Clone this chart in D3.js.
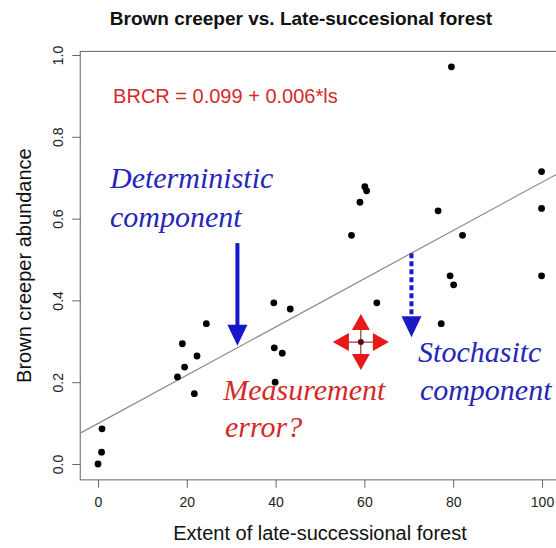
<!DOCTYPE html>
<html>
<head>
<meta charset="utf-8">
<script src="https://cdn.jsdelivr.net/npm/d3@7"></script>
<style>
  body { margin: 0; background: #fff; }
  svg { display: block; }
</style>
</head>
<body>
<svg id="chart"></svg>
<script>
// late-successional forest extent (%) and brown creeper abundance
const lsValues = [0, 0.8, 0.9, 17.9, 19.5, 19.0, 22.3, 21.7, 24.4, 39.6, 43.3, 39.7, 41.5, 39.9,
  62.8, 79.3, 80.1, 99.9, 77.3, 79.6, 99.9, 99.9, 76.6, 82.1, 60.1, 60.5, 59.0, 57.1];
const brcrValues = [0, 0.029, 0.086, 0.213, 0.237, 0.294, 0.264, 0.172, 0.343, 0.394, 0.379, 0.284, 0.271, 0.200,
  0.394, 0.460, 0.438, 0.460, 0.343, 0.971, 0.715, 0.625, 0.619, 0.559, 0.678, 0.668, 0.640, 0.559];
// the point marked with the red "measurement error" arrows
const errorPoint = [59.2, 0.298];

const xTicks = [0, 20, 40, 60, 80, 100];
const yTicks = [0, 0.2, 0.4, 0.6, 0.8, 1.0];

const intercept = 0.099;
const slope = 0.0059;

const width = 556;
const height = 548;
const sans = "'Liberation Sans', Arial, sans-serif";
const serif = "'Liberation Serif', 'Times New Roman', serif";
const blue = "#2626b8";
const red = "#d42a2a";

const svg = d3.select("#chart").attr("width", width).attr("height", height);

const x = d3.scaleLinear().domain([0, 100]).range([98, 542]);
const y = d3.scaleLinear().domain([0, 1]).range([464, 55]);

// R style plot region: data range padded by 4%
const xMin = -4, xMax = 104;
const yMin = -0.0388, yMax = 1.0088;

svg.append("rect")
  .attr("width", width)
  .attr("height", height)
  .attr("fill", "#fff");

svg.append("defs").append("clipPath")
  .attr("id", "plotclip")
  .append("rect")
  .attr("x", x(xMin))
  .attr("y", y(yMax))
  .attr("width", x(xMax) - x(xMin))
  .attr("height", y(yMin) - y(yMax));

svg.append("rect")
  .attr("x", x(xMin))
  .attr("y", y(yMax))
  .attr("width", x(xMax) - x(xMin))
  .attr("height", y(yMin) - y(yMax))
  .attr("fill", "none")
  .attr("stroke", "#666")
  .attr("stroke-width", 1);

// axes
const xAxis = d3.axisBottom(x).tickValues(xTicks).tickSize(8).tickPadding(9).tickFormat(d3.format("d"));
const gx = svg.append("g")
  .attr("transform", `translate(0,${y(yMin)})`)
  .call(xAxis);
gx.select(".domain").remove();
gx.selectAll("line").attr("stroke", "#666");
gx.selectAll("text")
  .attr("font-family", sans)
  .attr("font-size", 14)
  .attr("fill", "#222");

const yAxis = d3.axisLeft(y).tickValues(yTicks).tickSize(8).tickFormat(d3.format(".1f"));
const gy = svg.append("g")
  .attr("transform", `translate(${x(xMin)},0)`)
  .call(yAxis);
gy.select(".domain").remove();
gy.selectAll("line").attr("stroke", "#666");
gy.selectAll("text")
  .attr("font-family", sans)
  .attr("font-size", 14)
  .attr("fill", "#222")
  .attr("text-anchor", "middle")
  .attr("x", 0)
  .attr("dy", 0)
  .attr("transform", "translate(-17,0) rotate(-90)");

// titles
svg.append("text")
  .attr("x", 301)
  .attr("y", 25)
  .attr("text-anchor", "middle")
  .attr("font-family", sans)
  .attr("font-weight", "bold")
  .attr("font-size", 19)
  .attr("fill", "#111")
  .text("Brown creeper vs. Late-succesional forest");

const midX = (x(xMin) + x(xMax)) / 2;
const midY = (y(yMin) + y(yMax)) / 2;

svg.append("text")
  .attr("x", midX)
  .attr("y", 540)
  .attr("text-anchor", "middle")
  .attr("font-family", sans)
  .attr("font-size", 20)
  .attr("fill", "#111")
  .text("Extent of late-successional forest");

svg.append("text")
  .attr("transform", `translate(31,${midY}) rotate(-90)`)
  .attr("text-anchor", "middle")
  .attr("font-family", sans)
  .attr("font-size", 20)
  .attr("fill", "#111")
  .text("Brown creeper abundance");

// fitted line
const plot = svg.append("g").attr("clip-path", "url(#plotclip)");
plot.append("line")
  .attr("x1", x(xMin))
  .attr("y1", y(intercept + slope * xMin))
  .attr("x2", x(xMax))
  .attr("y2", y(intercept + slope * xMax))
  .attr("stroke", "#8a8a8a")
  .attr("stroke-width", 1.2);

// points
const points = lsValues.map((v, i) => ({ ls: v, brcr: brcrValues[i] }));
plot.selectAll("circle.pt")
  .data(points)
  .join("circle")
  .attr("class", "pt")
  .attr("cx", d => x(d.ls))
  .attr("cy", d => y(d.brcr))
  .attr("r", 3.4)
  .attr("fill", "#000");

// equation
svg.append("text")
  .attr("x", x(3.4))
  .attr("y", y(0.883))
  .attr("font-family", sans)
  .attr("font-size", 20)
  .attr("fill", red)
  .text("BRCR = 0.099 + 0.006*ls");

// serif italic annotations
const notes = [
  { text: "Deterministic", ls: 2.7, v: 0.675, color: blue },
  { text: "component", ls: 2.7, v: 0.579, color: blue },
  { text: "Measurement", ls: 28.2, v: 0.156, color: red },
  { text: "error?", ls: 28.6, v: 0.066, color: red },
  { text: "Stochasitc", ls: 72.1, v: 0.249, color: blue },
  { text: "component", ls: 72.5, v: 0.156, color: blue }
];
svg.selectAll("text.note")
  .data(notes)
  .join("text")
  .attr("class", "note")
  .attr("x", d => x(d.ls))
  .attr("y", d => y(d.v))
  .attr("font-family", serif)
  .attr("font-style", "italic")
  .attr("font-size", 30)
  .attr("fill", d => d.color)
  .text(d => d.text);

// arrows
function arrowHead(cx, tipY, dir, half, len, color) {
  // vertical head, dir = 1 points down
  svg.append("path")
    .attr("d", `M${cx},${tipY} L${cx - half},${tipY - dir * len} L${cx + half},${tipY - dir * len} Z`)
    .attr("fill", color);
}

const solidX = x(31.4);
const solidTip = y(intercept + slope * 31.4) - 2;
svg.append("line")
  .attr("x1", solidX).attr("x2", solidX)
  .attr("y1", y(0.54)).attr("y2", solidTip - 12)
  .attr("stroke", "#1616cc")
  .attr("stroke-width", 4);
arrowHead(solidX, solidTip, 1, 10, 21, "#1616cc");

const dashX = x(70.6);
const dashTip = y(0.31);
svg.append("line")
  .attr("x1", dashX).attr("x2", dashX)
  .attr("y1", y(intercept + slope * 70.6)).attr("y2", dashTip - 14)
  .attr("stroke", "#1a1ac4")
  .attr("stroke-width", 4)
  .attr("stroke-dasharray", "5,3");
arrowHead(dashX, dashTip, 1, 10, 21, "#1a1ac4");

// measurement error marker
const ex = x(errorPoint[0]);
const ey = y(errorPoint[1]);
const mk = svg.append("g").attr("transform", `translate(${ex},${ey})`);
mk.append("path")
  .attr("d", "M-14,0H14M0,-14V14")
  .attr("stroke", "#7a1010")
  .attr("stroke-width", 1);
[0, 90, 180, 270].forEach(a => {
  mk.append("path")
    .attr("d", "M0,-28 L-9,-12 L9,-12 Z")
    .attr("transform", `rotate(${a})`)
    .attr("fill", "#e81818");
});
mk.append("circle").attr("r", 3).attr("fill", "#5a0a0a");
</script>
</body>
</html>
